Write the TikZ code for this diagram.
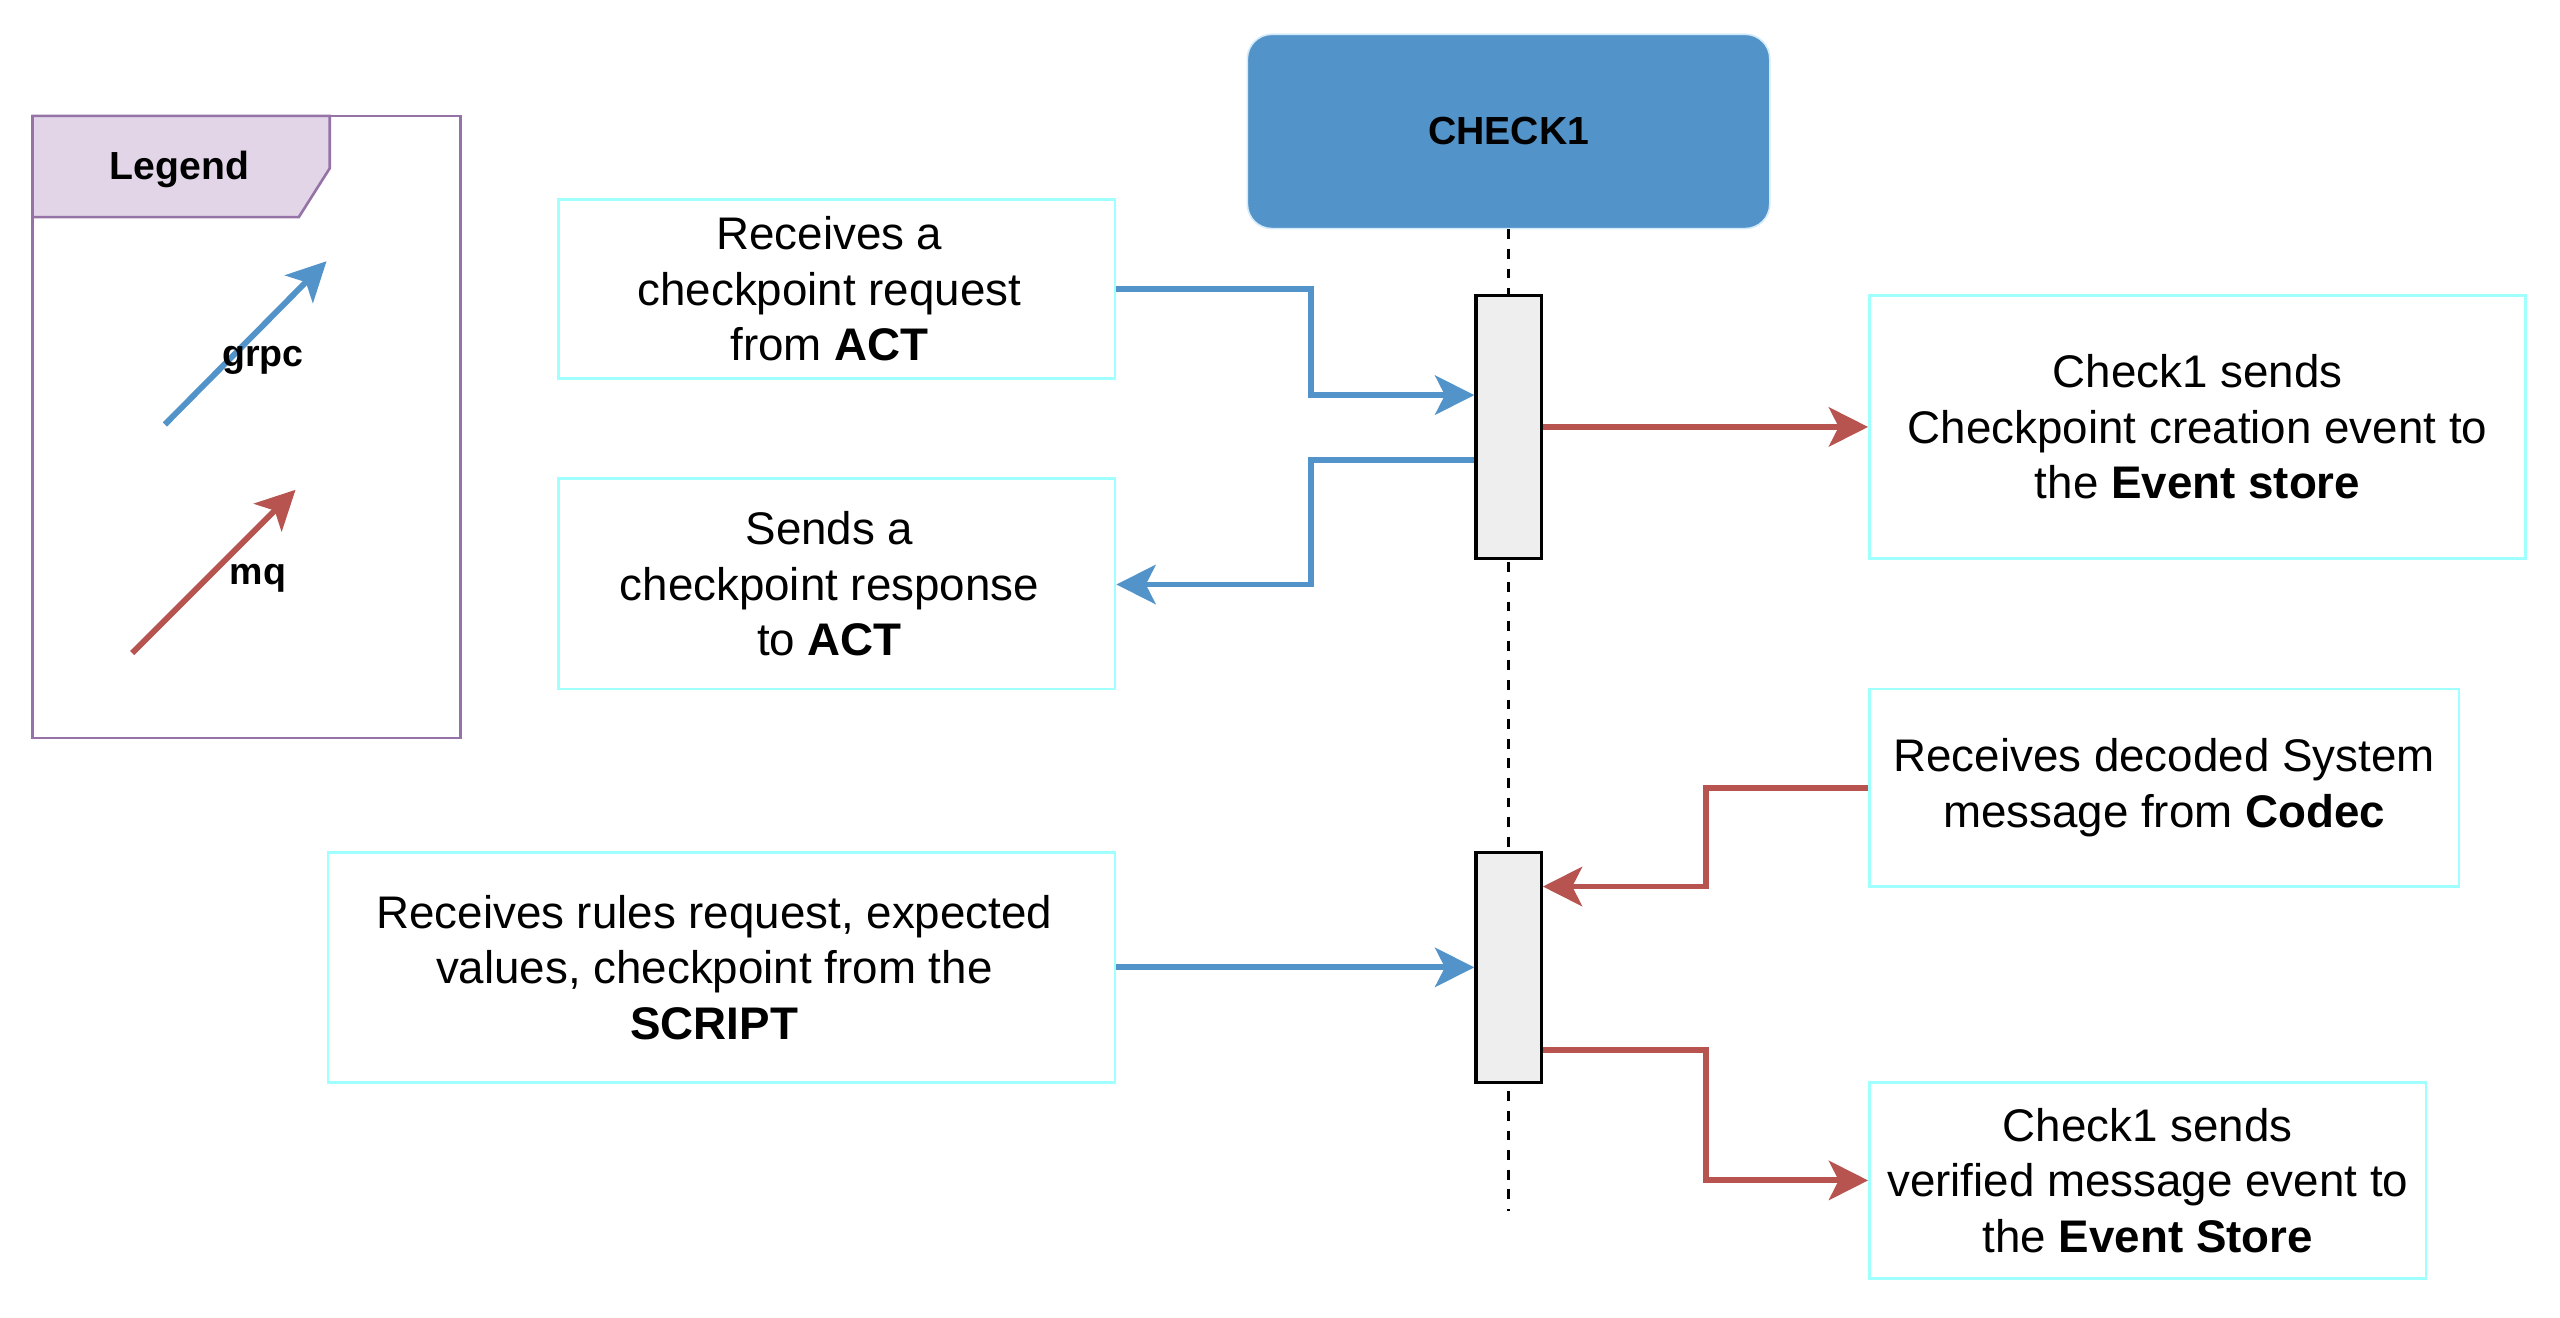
\documentclass[tikz,border=0pt]{standalone}
\usepackage{fontspec}
\setmainfont{Liberation Sans}
\usetikzlibrary{arrows.meta}
\definecolor{gblue}{HTML}{5293C9}
\definecolor{mqred}{HTML}{B85450}
\definecolor{lgfill}{HTML}{E1D5E7}
\definecolor{lgdraw}{HTML}{9673A6}
\definecolor{boxcyan}{HTML}{A0FFFF}
\definecolor{actfill}{HTML}{EEEEEE}
\definecolor{headdraw}{HTML}{D4ECFA}
\newcommand{\rpad}{\rule{9pt}{0pt}}
\begin{document}
\begin{tikzpicture}[x=1pt,y=-1pt,
  textbox/.style={draw=boxcyan, line width=1.6pt, fill=white, inner sep=0pt, align=center,
    font=\fontsize{28}{34}\selectfont},
  actbox/.style={draw=black, line width=2pt, fill=actfill, minimum width=40, inner sep=0pt},
  tip/.style={-{Stealth[length=24pt,width=24pt,inset=6pt]}},
  grpcline/.style={tip, draw=gblue, line width=3.6pt, color=gblue},
  mqline/.style={tip, draw=mqred, line width=3.6pt, color=mqred},
  lifeline/.style={draw=black, line width=2pt, dash pattern=on 6pt off 6pt},
  lbl/.style={font=\bfseries\fontsize{23}{27}\selectfont, inner sep=0pt}
]
\useasboundingbox (0,0) rectangle (1568,807);

% Legend
\draw[draw=lgdraw, line width=1.6pt, fill=white] (20,71) rectangle (282,452);
\draw[draw=lgdraw, line width=1.6pt, fill=lgfill] (20,71) -- (202,71) -- (202,103) -- (183,133) -- (20,133) -- cycle;
\node[lbl, font=\bfseries\fontsize{24}{28}\selectfont] (legtitle) at (110,103.5) {Legend};
\coordinate (g1) at (101,260);
\coordinate (g2) at (200,160);
\coordinate (m1) at (81,400);
\coordinate (m2) at (181,300);
\draw[grpcline] (g1) -- (g2);
\draw[mqline] (m1) -- (m2);
\node[lbl] (grpclbl) at (161,221) {grpc};
\node[lbl] (mqlbl) at (158,354) {mq};

% Participant
\node[fill=gblue, draw=headdraw, line width=1pt, rounded corners=15pt, minimum width=320, minimum height=119,
  inner sep=0pt, font=\bfseries\fontsize{24}{28}\selectfont] (check) at (924,80.5) {CHECK1};
\coordinate (lifeend) at (924,742);
\draw[lifeline] (check.south) -- (lifeend);

% Activation boxes
\node[actbox, minimum height=161] (act1) at (924,261.5) {};
\node[actbox, minimum height=141] (act2) at (924,592.5) {};

% Text boxes
\node[textbox, minimum width=341, minimum height=110] (boxA) at (512.5,177) {Receives a\rpad\\checkpoint request\rpad\\from \textbf{ACT}\rpad};
\node[textbox, minimum width=341, minimum height=129] (boxB) at (512.5,357.5) {Sends a\rpad\\checkpoint response\rpad\\to \textbf{ACT}\rpad};
\node[textbox, minimum width=402, minimum height=161] (boxC) at (1346,261.5) {Check1 sends\\Checkpoint creation event to\\the \textbf{Event store}};
\node[textbox, minimum width=361, minimum height=121] (boxD) at (1325.5,482.5) {Receives decoded System\\message from \textbf{Codec}};
\node[textbox, minimum width=482, minimum height=141] (boxE) at (442,592.5) {Receives rules request, expected\rpad\\values, checkpoint from the\rpad\\\textbf{SCRIPT}\rpad};
\node[textbox, minimum width=341, minimum height=120] (boxF) at (1315.5,723) {Check1 sends\\verified message event to\\the \textbf{Event Store}};

% Connectors
\draw[grpcline] (boxA.east) -- (803,177) -- (803,242) -- (act1.west |- 0,242);
\draw[grpcline] (act1.west |- 0,282) -- (803,282) -- (803,358) -- (boxB.east |- 0,358);
\draw[mqline] (act1.east) -- (boxC.west);
\draw[mqline] (boxD.west) -- (1045,482.5) -- (1045,543) -- (act2.east |- 0,543);
\draw[grpcline] (boxE.east) -- (act2.west);
\draw[mqline] (act2.east |- 0,643) -- (1045,643) -- (1045,723) -- (boxF.west);
\end{tikzpicture}
\end{document}
